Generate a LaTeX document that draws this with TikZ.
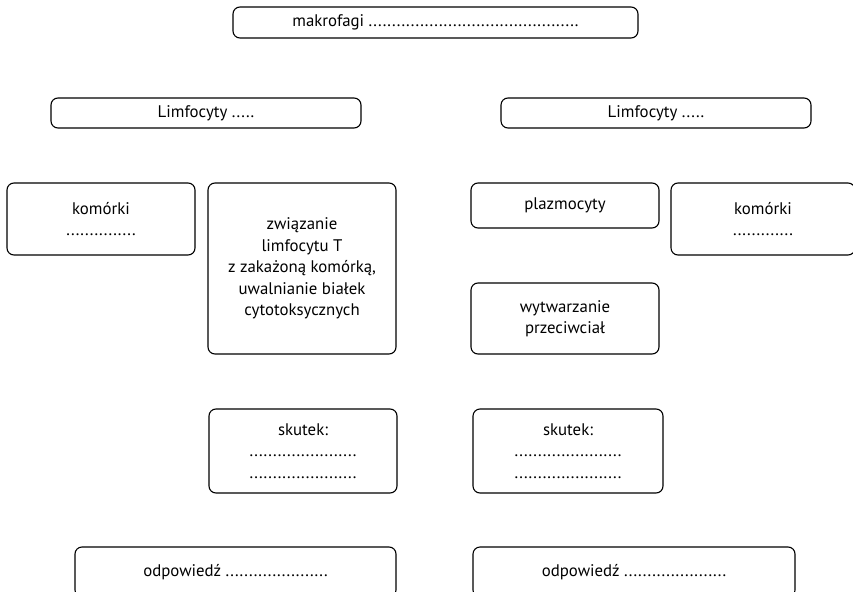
\documentclass[tikz,border=0pt]{standalone}
\usepackage{fontspec}
\setmainfont{PT Sans}
\newcommand{\fs}{\fontsize{16.8}{21.5}\selectfont}
\begin{document}
\begin{tikzpicture}[x=1pt,y=-1pt,
  box/.style={draw, rounded corners=7pt, line width=1.1pt, inner sep=0pt,
    align=center, font=\fs},
]
\path[use as bounding box, clip] (0,0) rectangle (853,591);
\node[box, minimum width=405, minimum height=31] (mak) at (435.5,22.5)
  {makrofagi .............................................};
\node[box, minimum width=310, minimum height=30] (limL) at (206,113) {Limfocyty .....};
\node[box, minimum width=310, minimum height=30] (limR) at (656,113) {Limfocyty .....};
\node[box, minimum width=188, minimum height=72] (komL) at (101,219) {komórki\\...............};
\node[box, minimum width=188, minimum height=171] (zw) at (302,268.5)
  {związanie\\limfocytu T\\z zakażoną komórką,\\uwalnianie białek\\cytotoksycznych};
\node[box, minimum width=188, minimum height=45] (plaz) at (565,205.5) {plazmocyty};
\node[box, minimum width=184, minimum height=72] (komR) at (763,219) {komórki\\.............};
\node[box, minimum width=188, minimum height=71] (wyt) at (565,318.5) {wytwarzanie\\przeciwciał};
\node[box, minimum width=188, minimum height=84] (skL) at (303,451)
  {skutek:\\.......................\\.......................};
\node[box, minimum width=190, minimum height=84] (skR) at (568,451)
  {skutek:\\.......................\\.......................};
\node[box, minimum width=321, minimum height=50] (odL) at (235.5,572) {odpowiedź ......................};
\node[box, minimum width=322, minimum height=50] (odR) at (634,572) {odpowiedź ......................};
\end{tikzpicture}
\end{document}
